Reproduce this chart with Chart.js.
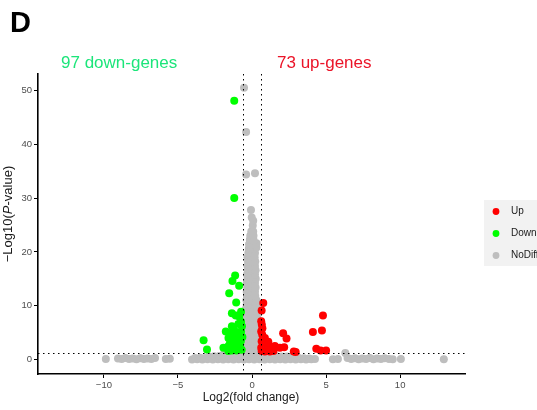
<!DOCTYPE html>
<html>
<head>
<meta charset="utf-8">
<script src="https://cdn.jsdelivr.net/npm/chart.js@4.4.1/dist/chart.umd.min.js"></script>
<style>
  body { margin: 0; background: #fff; }
  canvas { display: block; }
</style>
</head>
<body>
<canvas id="volcano" width="537" height="410"></canvas>
<script>
// points: [log2 fold change, -log10 P]
const upGenes = [
  [0.76,10.5],[0.65,9.1],[0.62,7.1],[0.66,6.5],[0.7,5.8],[0.62,5.2],[0.69,4.6],[0.87,4.0],
  [0.8,3.5],[0.65,3.4],[1.1,3.3],[0.76,2.8],[1.1,2.8],[0.99,2.3],[1.54,2.5],[1.88,2.2],
  [0.62,2.2],[1.21,2.1],[1.3,1.9],[0.87,1.5],[1.2,1.5],[1.45,1.6],[0.65,1.6],[2.1,4.9],
  [2.33,3.9],[2.17,2.3],[2.82,1.5],[2.95,1.4],[4.11,5.1],[4.72,5.4],[4.79,8.2],[4.34,2.0],
  [4.63,1.7],[5.0,1.7]
];
const downGenes = [
  [-1.2,48.1],[-1.2,30.0],[-1.14,15.6],[-1.32,14.6],[-0.87,13.7],[-1.54,12.3],[-1.07,10.6],
  [-1.36,8.6],[-1.1,8.2],[-0.87,8.0],[-0.74,8.9],[-0.92,6.6],[-1.36,6.2],[-0.74,7.0],
  [-1.77,5.2],[-1.48,4.9],[-1.14,5.2],[-0.74,5.2],[-0.92,4.6],[-1.59,4.0],[-1.26,4.0],
  [-0.92,3.8],[-1.48,3.1],[-1.14,3.1],[-0.8,2.8],[-1.59,2.5],[-1.26,2.2],[-0.96,2.2],
  [-1.93,2.2],[-1.36,1.7],[-1.05,1.7],[-0.7,1.8],[-0.75,3.5],[-1.3,3.6],[-1.0,4.3],
  [-1.25,5.6],[-0.65,4.2],[-0.68,6.2],[-1.6,1.6],[-3.27,3.6],[-3.04,1.85]
];
const noDifColumn = [
  [-0.48,1.5],[-0.2,1.5],[0.08,1.5],[0.36,1.5],
  [-0.42,2.2],[-0.12,2.2],[0.18,2.2],[0.42,2.2],
  [-0.46,3.0],[-0.18,3.0],[0.1,3.0],[0.38,3.0],
  [-0.4,3.8],[-0.1,3.8],[0.2,3.8],[0.42,3.8],
  [-0.47,4.6],[-0.2,4.6],[0.08,4.6],[0.35,4.6],
  [-0.42,5.4],[-0.13,5.4],[0.16,5.4],[0.4,5.4],
  [-0.45,6.2],[-0.18,6.2],[0.1,6.2],[0.36,6.2],
  [-0.4,7.0],[-0.1,7.0],[0.2,7.0],[0.38,7.0],
  [-0.44,7.8],[-0.16,7.8],[0.12,7.8],[0.35,7.8],
  [-0.38,8.6],[-0.1,8.6],[0.18,8.6],[0.36,8.6],
  [-0.42,9.4],[-0.14,9.4],[0.14,9.4],[0.33,9.4],
  [-0.36,10.2],[-0.08,10.2],[0.2,10.2],[0.3,10.2],
  [-0.38,11.0],[-0.1,11.0],[0.18,11.0],[0.3,11.0],
  [-0.34,11.8],[-0.06,11.8],[0.22,11.8],
  [-0.36,12.6],[-0.08,12.6],[0.2,12.6],
  [-0.32,13.4],[-0.04,13.4],[0.24,13.4],
  [-0.35,14.2],[-0.07,14.2],[0.2,14.2],
  [-0.3,15.0],[-0.02,15.0],[0.25,15.0],
  [-0.33,15.8],[-0.05,15.8],[0.2,15.8],
  [-0.28,16.6],[0.0,16.6],[0.24,16.6],
  [-0.3,17.4],[-0.02,17.4],[0.2,17.4],
  [-0.27,18.2],[0.02,18.2],[0.22,18.2],
  [-0.3,19.0],[-0.04,19.0],[0.18,19.0],
  [-0.25,19.8],[0.02,19.8],[0.2,19.8],
  [-0.22,20.6],[0.05,20.6],[0.3,20.8],
  [-0.2,21.4],[0.08,21.4],[0.3,21.6],
  [-0.15,22.2],[0.1,22.2],[-0.12,23.0],[0.1,23.0],
  [-0.05,23.8],[0.08,23.8],[0.05,24.9],[0.08,25.8],[-0.02,26.4],[-0.07,27.8],
  [0.2,34.6],[-0.4,34.4],[-0.4,42.3],[-0.54,50.5]
];
const noDifBand = [
  [-4.05,0.0],[-3.7,0.05],[-3.35,0.0],[-3.0,0.05],[-2.65,0.0],[-2.3,0.05],[-1.95,0.0],
  [-1.6,0.05],[-1.25,0.0],[-0.9,0.05],[-0.55,0.0],[-0.2,0.05],[0.15,0.0],[0.5,0.05],
  [0.85,0.0],[1.2,0.05],[1.55,0.0],[1.9,0.05],[2.25,0.0],[2.6,0.05],[2.95,0.0],
  [3.3,0.05],[3.65,0.0],[4.0,0.05],[4.25,0.1],
  [-3.85,0.3],[-3.5,0.35],[-3.15,0.3],[-2.8,0.35],[-2.45,0.3],[-2.1,0.35],[-1.75,0.3],
  [-1.4,0.35],[-1.05,0.3],[-0.7,0.35],[-0.35,0.3],[0.0,0.35],[0.35,0.3],[0.7,0.35],
  [1.05,0.3],[1.4,0.35],[1.75,0.3],[2.1,0.35],[2.45,0.3],[2.8,0.35],[3.15,0.3],
  [3.5,0.25],[3.85,0.2],
  [-2.9,0.55],[-2.55,0.6],[-2.2,0.65],[-1.85,0.6],[-1.5,0.7],[-1.15,0.65],[-0.8,0.7],
  [-0.45,0.65],[-0.1,0.7],[0.25,0.65],[0.6,0.6],[0.95,0.6],[1.3,0.55],[1.65,0.6],
  [2.0,0.55],[2.35,0.55],[2.7,0.45],
  [-1.95,0.9],[-1.6,0.95],[-1.25,1.0],[-0.9,0.95],[-0.6,1.05],[-0.3,1.0],[0.0,1.05],
  [0.3,1.0],[0.6,0.95],[-1.1,1.2]
];
const noDifTails = [
  [-9.87,0.1],[-9.05,0.2],[-8.8,0.1],[-8.55,0.3],[-8.3,0.1],[-8.05,0.2],[-7.8,0.05],
  [-7.55,0.25],[-7.3,0.1],[-7.05,0.2],[-6.8,0.1],[-6.55,0.3],[-5.82,0.1],[-5.55,0.15],
  [5.46,0.05],[5.8,0.1],[6.3,1.2],[6.45,0.3],[6.7,0.1],[6.95,0.25],[7.2,0.05],[7.45,0.2],
  [7.7,0.1],[7.95,0.3],[8.2,0.05],[8.45,0.2],[8.7,0.1],[8.95,0.25],[9.25,0.1],[9.5,0.05],
  [10.05,0.1],[12.95,0.05]
];

const xTicks = [-10, -5, 0, 5, 10];
const yTicks = [0, 10, 20, 30, 40, 50];
const fcCut = 0.585;   // log2(1.5)
const pCut = 1.301;    // -log10(0.05)
const legendLabels = ['Up', 'Down', 'NoDiff'];
const pointColors = ['#ff0000', '#00ff00', '#bebebe'];

const FONT = 'Liberation Sans, Arial, sans-serif';
const minus = v => String(v).replace('-', '\u2212');
const toPts = arr => arr.map(([x, y]) => ({ x, y }));

// dotted cut-off lines, labels, titles and the legend box
const overlay = {
  id: 'overlay',
  afterDatasetsDraw(chart) {
    const { ctx, chartArea: a, scales: { x, y } } = chart;
    ctx.save();
    ctx.strokeStyle = '#000';
    ctx.lineWidth = 1;
    ctx.setLineDash([1.5, 3.5]);
    [-fcCut, fcCut].forEach(v => {
      const px = Math.round(x.getPixelForValue(v)) + 0.5;
      ctx.beginPath(); ctx.moveTo(px, a.top); ctx.lineTo(px, a.bottom); ctx.stroke();
    });
    const py = Math.round(y.getPixelForValue(pCut)) + 0.5;
    ctx.beginPath(); ctx.moveTo(a.left, py); ctx.lineTo(a.right, py); ctx.stroke();
    ctx.restore();
  },
  afterDraw(chart) {
    const { ctx } = chart;
    ctx.save();
    ctx.textBaseline = 'alphabetic';
    ctx.textAlign = 'left';

    ctx.fillStyle = '#000';
    ctx.font = `bold 29px ${FONT}`;
    ctx.fillText('D', 10, 32);

    ctx.font = `17px ${FONT}`;
    ctx.fillStyle = '#1ce57a';
    ctx.fillText('97 down-genes', 61, 68);
    ctx.fillStyle = '#eb1428';
    ctx.fillText('73 up-genes', 277, 68);

    // x title
    ctx.fillStyle = '#1a1a1a';
    ctx.font = `12px ${FONT}`;
    ctx.textAlign = 'center';
    ctx.textBaseline = 'middle';
    ctx.fillText('Log2(fold change)', 251, 398);

    // y title with italic P
    const parts = [['\u2212Log10(', ''], ['P', 'italic '], ['-value)', '']];
    ctx.translate(8, 214);
    ctx.rotate(-Math.PI / 2);
    ctx.textAlign = 'left';
    const widths = parts.map(([t, s]) => { ctx.font = `${s}13px ${FONT}`; return ctx.measureText(t).width; });
    let cx = -widths.reduce((s, w) => s + w, 0) / 2;
    parts.forEach(([t, s], i) => { ctx.font = `${s}13px ${FONT}`; ctx.fillText(t, cx, 0); cx += widths[i] + (i === 0 ? 0 : 0); });
    ctx.setTransform(1, 0, 0, 1, 0, 0);

    // legend
    ctx.fillStyle = '#f2f2f2';
    ctx.fillRect(484, 200, 60, 66);
    ctx.font = `10px ${FONT}`;
    ctx.textBaseline = 'middle';
    legendLabels.forEach((lab, i) => {
      const ly = 211.5 + i * 22;
      ctx.fillStyle = pointColors[i];
      ctx.beginPath(); ctx.arc(496, ly, 3.4, 0, Math.PI * 2); ctx.fill();
      ctx.fillStyle = '#1a1a1a';
      ctx.fillText(lab, 511, ly);
    });
    ctx.restore();
  }
};

const axisCommon = {
  type: 'linear',
  grid: { display: true, drawOnChartArea: false, drawTicks: true, tickLength: 4, color: '#000', lineWidth: 1 },
  border: { display: true, color: '#000', width: 1.6 },
  ticks: { font: { family: FONT, size: 9.5 }, color: '#4d4d4d', padding: 2, maxRotation: 0, callback: v => minus(v) }
};

new Chart(document.getElementById('volcano'), {
  type: 'scatter',
  data: {
    datasets: [
      { label: 'Up', data: toPts(upGenes), backgroundColor: pointColors[0] },
      { label: 'Down', data: toPts(downGenes), backgroundColor: pointColors[1] },
      { label: 'NoDif', data: toPts([...noDifColumn, ...noDifBand, ...noDifTails]), backgroundColor: pointColors[2] }
    ]
  },
  options: {
    responsive: false,
    animation: false,
    layout: { padding: { top: 74, right: 72, left: 0, bottom: 0 } },
    elements: { point: { radius: 4, hoverRadius: 4, borderWidth: 0 } },
    plugins: { legend: { display: false }, tooltip: { enabled: false } },
    scales: {
      x: {
        ...axisCommon, min: -14.45, max: 14.38,
        afterBuildTicks: s => { s.ticks = xTicks.map(v => ({ value: v })); },
        afterFit: s => { s.height = 36; }
      },
      y: {
        ...axisCommon, min: -2.69, max: 53.06,
        afterBuildTicks: s => { s.ticks = yTicks.map(v => ({ value: v })); },
        afterFit: s => { s.width = 38; }
      }
    }
  },
  plugins: [overlay]
});
</script>
</body>
</html>
